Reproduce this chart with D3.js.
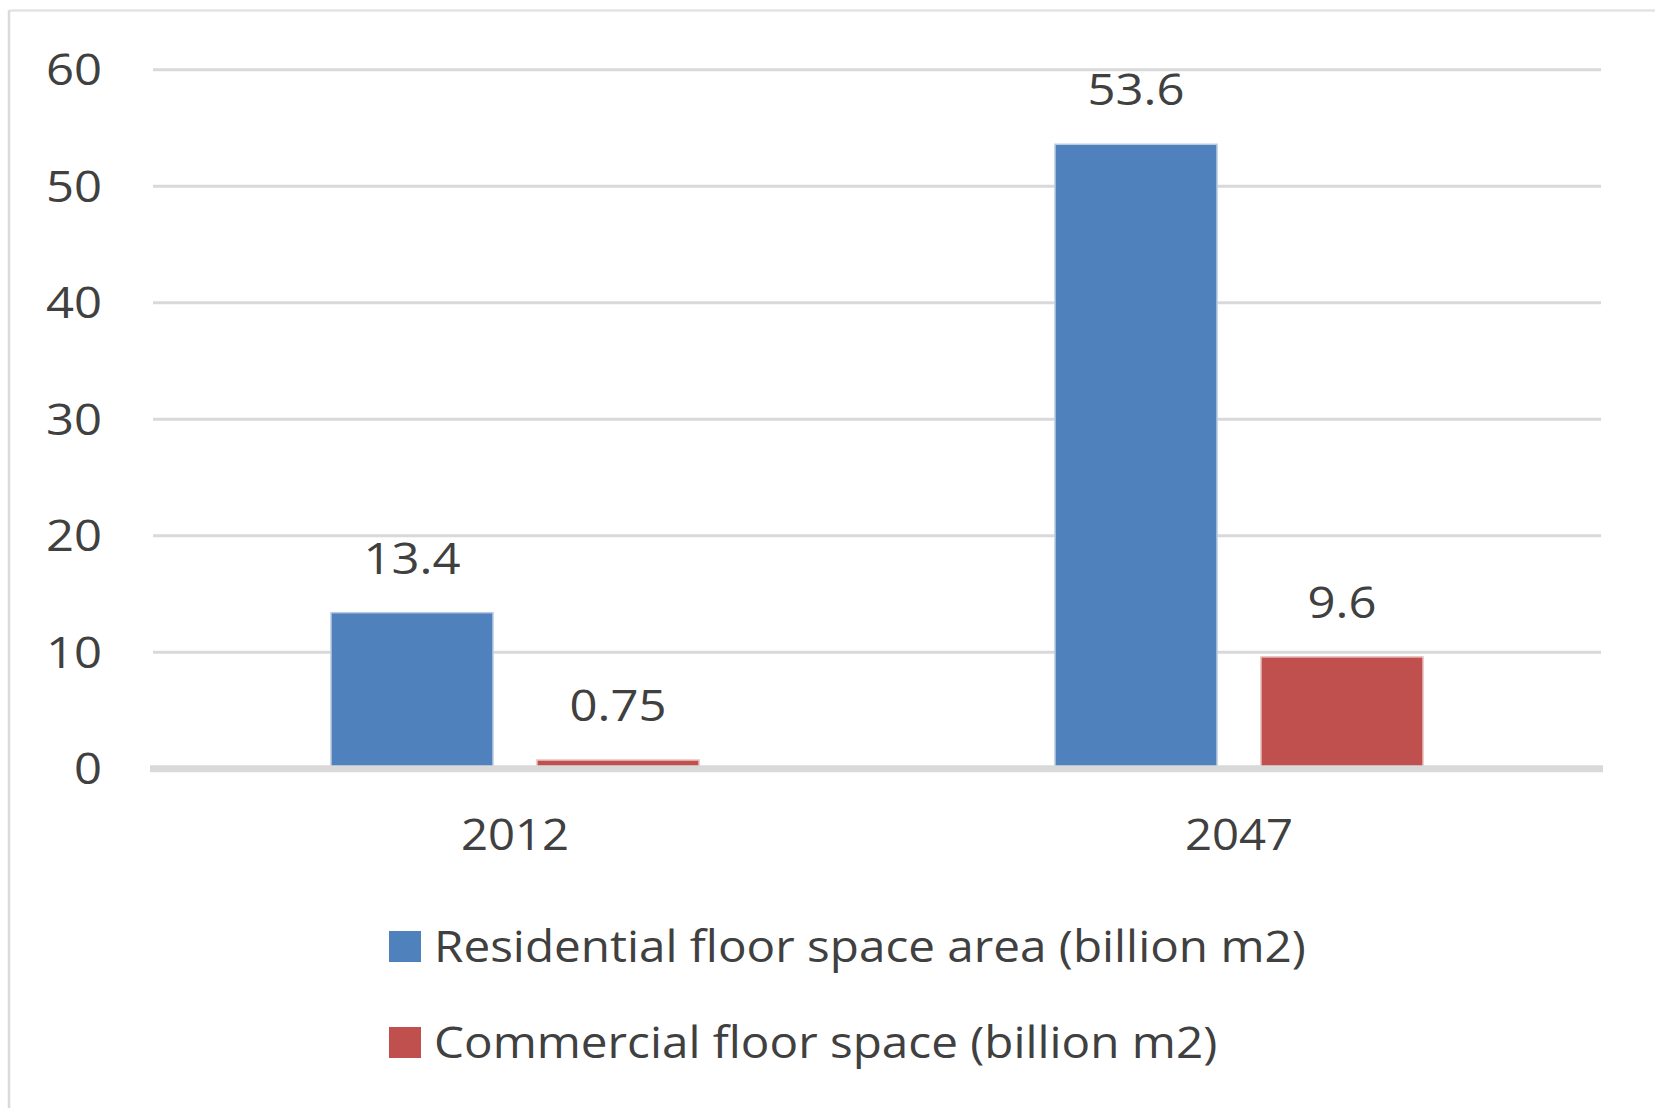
<!DOCTYPE html>
<html>
<head>
<meta charset="utf-8">
<script src="https://cdn.jsdelivr.net/npm/d3@7"></script>
<style>
  html, body { margin: 0; padding: 0; background: #ffffff; }
  svg { display: block; }
</style>
</head>
<body>
<script>
// Floor space, billion m2
const years = ["2012", "2047"];
const seriesNames = ["Residential floor space area (billion m2)", "Commercial floor space (billion m2)"];
const residential = [13.4, 53.6];
const commercial = [0.75, 9.6];
const seriesColors = ["#4f81bd", "#c0504d"];
const yTicks = [0, 10, 20, 30, 40, 50, 60];

const W = 1655, H = 1108;
const FONT = "'Open Sans', 'Noto Sans', sans-serif";
const FS = 43;          // font size
const TXT = "#404040";
const GRID = "#d9d9d9";

const svg = d3.select("body").append("svg")
  .attr("width", W).attr("height", H);

svg.append("rect").attr("width", W).attr("height", H).attr("fill", "#fff");

// chart area border (top and left edges are visible)
svg.append("line").attr("x1", 10).attr("x2", W).attr("y1", 10.5).attr("y2", 10.5)
  .attr("stroke", "#e3e3e3").attr("stroke-width", 2.5);
svg.append("line").attr("x1", 9).attr("x2", 9).attr("y1", 10).attr("y2", H)
  .attr("stroke", "#dadada").attr("stroke-width", 2.5);

const plotL = 153, plotR = 1601;
const y = d3.scaleLinear().domain([0, 60]).range([768.8, 69.7]);
const x0 = d3.scaleBand().domain(years).range([plotL, plotR]);
const x1 = d3.scaleBand().domain([0, 1]).range([178, 546]).paddingInner(0.2136).paddingOuter(0);

// horizontally stretched text helper
function label(g, x, yy, text, anchor, sx) {
  return g.append("text")
    .attr("transform", `translate(${x},${yy}) scale(${sx},1)`)
    .attr("text-anchor", anchor)
    .attr("font-family", FONT)
    .attr("font-size", FS)
    .attr("fill", TXT)
    .text(text);
}

// gridlines
const gridG = svg.append("g");
gridG.selectAll("line").data(yTicks.filter(d => d > 0)).join("line")
  .attr("x1", plotL).attr("x2", plotR)
  .attr("y1", d => y(d)).attr("y2", d => y(d))
  .attr("stroke", GRID).attr("stroke-width", 3);

// y tick labels
const yAxisG = svg.append("g");
yTicks.forEach(t => {
  label(yAxisG, 102, y(t) + 15.5, String(t), "end", 1.14);
});

// bars
const rows = years.map((yr, i) => ({ year: yr, values: [residential[i], commercial[i]] }));
const groups = svg.append("g").selectAll("g").data(rows).join("g")
  .attr("transform", d => `translate(${x0(d.year)},0)`);

groups.selectAll("rect").data(d => d.values.map((v, s) => ({ v, s }))).join("rect")
  .attr("x", d => x1(d.s))
  .attr("y", d => y(d.v))
  .attr("width", x1.bandwidth())
  .attr("height", d => y(0) - y(d.v))
  .attr("fill", d => seriesColors[d.s])
  .attr("stroke", d => d.s === 0 ? "#b9cbe3" : "#e6bdbc")
  .attr("stroke-width", 1.5);

// value labels
groups.each(function (d) {
  const g = d3.select(this);
  d.values.forEach((v, s) => {
    label(g, x1(s) + x1.bandwidth() / 2, y(v) - 39, String(v), "middle", 1.14);
  });
});

// category axis line
svg.append("line")
  .attr("x1", 150).attr("x2", 1603)
  .attr("y1", y(0)).attr("y2", y(0))
  .attr("stroke", GRID).attr("stroke-width", 7);

// category labels
const xAxisG = svg.append("g");
years.forEach(yr => {
  label(xAxisG, x0(yr) + x0.bandwidth() / 2, 849.5, yr, "middle", 1.1);
});

// legend
const legendY = [962, 1058];
const legend = svg.append("g");
seriesNames.forEach((name, i) => {
  legend.append("rect")
    .attr("x", 389).attr("y", legendY[i] - 31)
    .attr("width", 32).attr("height", 31)
    .attr("fill", seriesColors[i]);
  label(legend, 434, legendY[i], name, "start", 1.108);
});
</script>
</body>
</html>
